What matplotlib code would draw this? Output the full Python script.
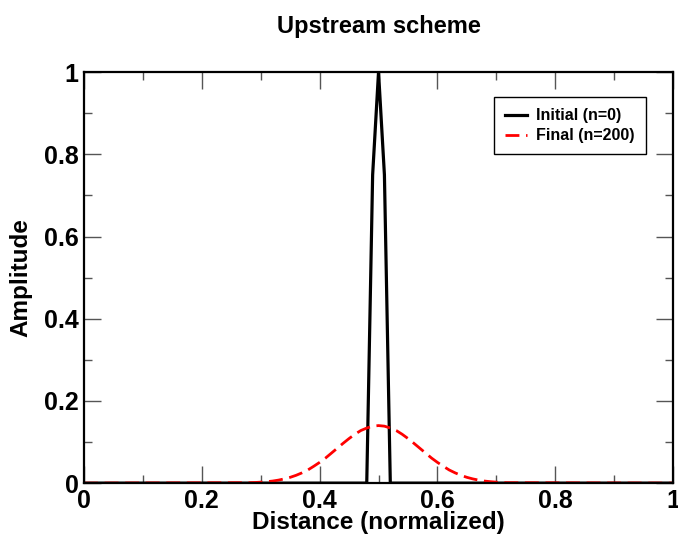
"""
Upstream scheme: initial pulse vs. final (n=200) profile.
Saves out.png
"""

import matplotlib
matplotlib.use('Agg')
import matplotlib.pyplot as plt
from matplotlib.ticker import MultipleLocator, FormatStrFormatter

plt.rcParams['font.family'] = ['Liberation Sans', 'DejaVu Sans']
plt.rcParams['font.weight'] = 'bold'

# Initial pulse (n=0)
x_ini = [0.0, 0.48, 0.49, 0.50, 0.51, 0.52, 1.0]
y_ini = [0.0, 0.0, 0.75, 1.0, 0.75, 0.0, 0.0]

# Final profile (n=200)
x_fin = [0.0, 0.28, 0.29, 0.30, 0.31, 0.32, 0.33, 0.34, 0.35, 0.36, 0.37,
         0.38, 0.39, 0.40, 0.41, 0.42, 0.43, 0.44, 0.45, 0.46, 0.47, 0.48,
         0.49, 0.50, 0.51, 0.52, 0.53, 0.54, 0.55, 0.56, 0.57, 0.58, 0.59,
         0.60, 0.61, 0.62, 0.63, 0.64, 0.65, 0.66, 0.67, 0.68, 0.69, 0.70,
         0.71, 0.72, 1.0]
y_fin = [0.0, 0.001, 0.0015, 0.0024, 0.0035, 0.005, 0.0073, 0.0103, 0.0141,
         0.019, 0.025, 0.032, 0.041, 0.0505, 0.061, 0.073, 0.085, 0.097,
         0.1085, 0.119, 0.128, 0.134, 0.1386, 0.140, 0.1386, 0.134, 0.128,
         0.119, 0.1085, 0.097, 0.085, 0.073, 0.061, 0.0505, 0.041, 0.032,
         0.025, 0.019, 0.0141, 0.0103, 0.0073, 0.005, 0.0035, 0.0024, 0.0015,
         0.001, 0.0]

fig = plt.figure(figsize=(6.78, 5.38), dpi=100)
ax = fig.add_axes([0.124, 0.102, 0.8686, 0.764])

ax.plot(x_ini, y_ini, color='black', linewidth=2.3, label='Initial (n=0)')
ax.plot(x_fin, y_fin, color='red', linewidth=2.0, dashes=(5, 2.4),
        label='Final (n=200)')

ax.set_xlim(0, 1)
ax.set_ylim(0, 1)
ax.xaxis.set_major_locator(MultipleLocator(0.2))
ax.xaxis.set_minor_locator(MultipleLocator(0.1))
ax.yaxis.set_major_locator(MultipleLocator(0.2))
ax.yaxis.set_minor_locator(MultipleLocator(0.1))
ax.xaxis.set_major_formatter(FormatStrFormatter('%g'))
ax.yaxis.set_major_formatter(FormatStrFormatter('%g'))

ax.tick_params(which='both', direction='in', top=True, right=True,
               color='#555555', width=1.0)
ax.tick_params(which='major', length=12, labelsize=18, pad=4)
ax.tick_params(which='minor', length=6)
for lab in ax.get_xticklabels() + ax.get_yticklabels():
    lab.set_fontweight('bold')
for sp in ax.spines.values():
    sp.set_linewidth(1.6)

ax.set_xlabel('Distance (normalized)', fontsize=17.5, fontweight='bold',
              labelpad=-1)
ax.set_ylabel('Amplitude', fontsize=17.5, fontweight='bold', labelpad=8)
ax.set_title('Upstream scheme', fontsize=17, fontweight='bold', pad=28)

leg = ax.legend(loc='upper right', bbox_to_anchor=(0.954, 0.939),
                prop={'size': 11.5, 'weight': 'bold'}, fancybox=False,
                framealpha=1, edgecolor='black', handlelength=1.4,
                handletextpad=0.55, borderpad=0.7, labelspacing=0.3,
                borderaxespad=0)
leg.get_frame().set_linewidth(1.0)

fig.savefig('out.png', dpi=100, facecolor='white')
plt.close(fig)
